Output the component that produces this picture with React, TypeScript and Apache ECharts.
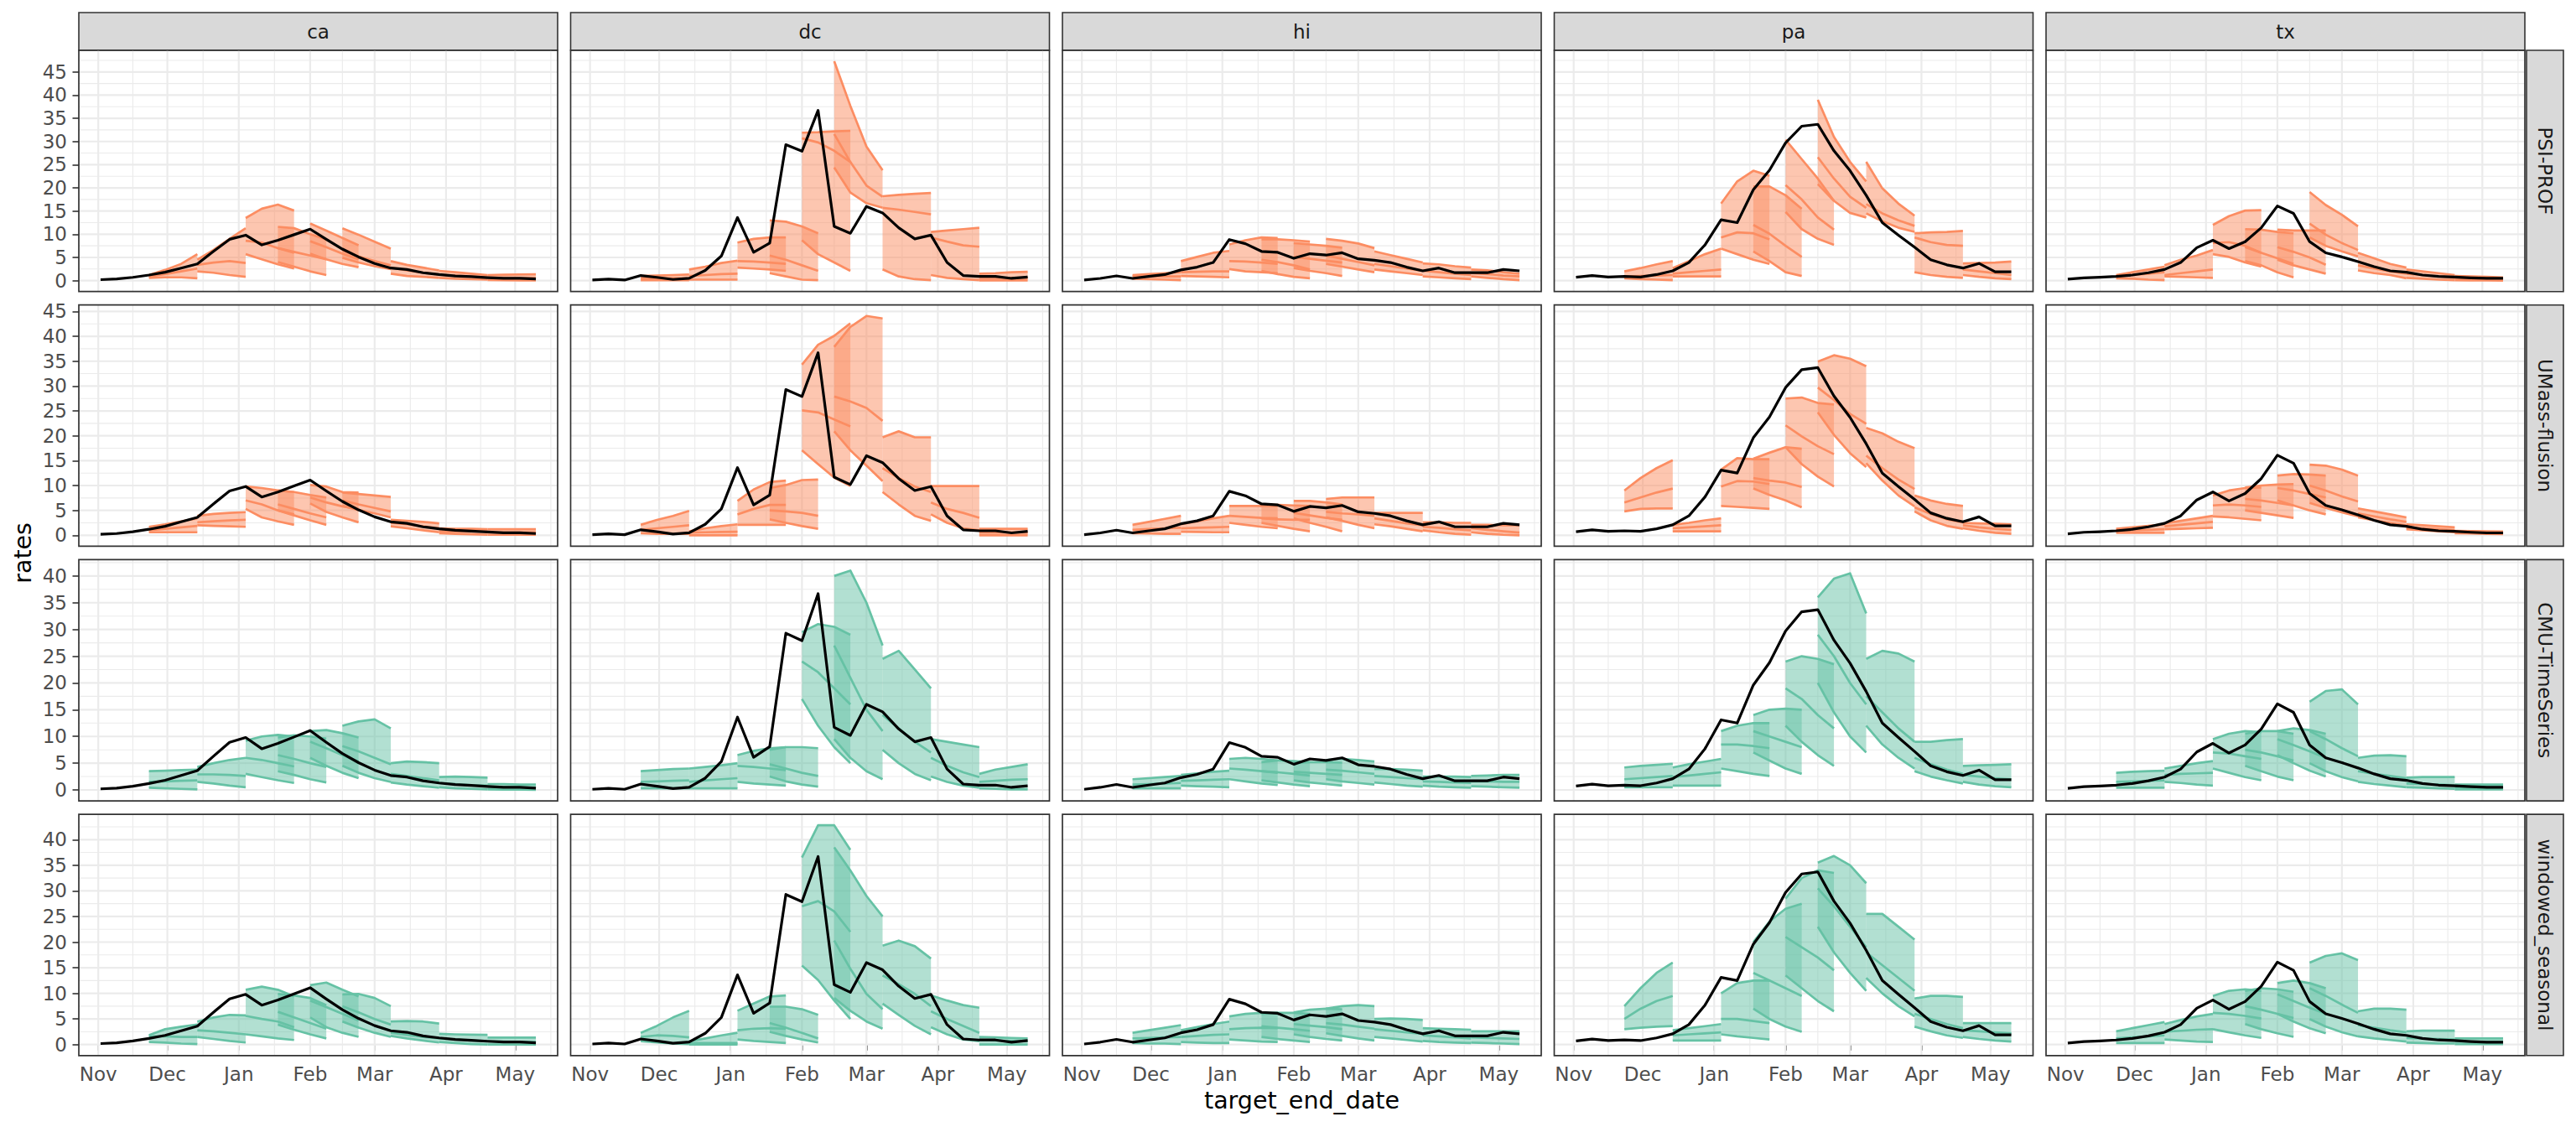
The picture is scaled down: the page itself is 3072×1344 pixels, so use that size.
import React, { useEffect, useRef } from "react";
import * as echarts from "echarts";

// ---------------- data ----------------
const locations = ["ca", "dc", "hi", "pa", "tx"];
const models = ["PSI-PROF", "UMass-flusion", "CMU-TimeSeries", "windowed_seasonal"];

const targetDates = [
  "2024-11-02", "2024-11-09", "2024-11-16", "2024-11-23", "2024-11-30", "2024-12-07", "2024-12-14",
  "2024-12-21", "2024-12-28", "2025-01-04", "2025-01-11", "2025-01-18", "2025-01-25", "2025-02-01",
  "2025-02-08", "2025-02-15", "2025-02-22", "2025-03-01", "2025-03-08", "2025-03-15", "2025-03-22",
  "2025-03-29", "2025-04-05", "2025-04-12", "2025-04-19", "2025-04-26", "2025-05-03", "2025-05-10",
];
const forecastStarts = [
  "2024-11-23", "2024-12-14", "2025-01-04", "2025-01-18", "2025-02-01",
  "2025-02-15", "2025-03-08", "2025-03-29", "2025-04-19",
];
const monthBreaks = [
  "2024-10-01", "2024-11-01", "2024-12-01", "2025-01-01", "2025-02-01",
  "2025-03-01", "2025-04-01", "2025-05-01", "2025-06-01",
];
const monthNames = ["Jan", "Feb", "Mar", "Apr", "May", "Jun", "Jul", "Aug", "Sep", "Oct", "Nov", "Dec"];

const obsCa = [0.2, 0.35, 0.7, 1.2, 1.8, 2.7, 3.6, 6.3, 8.9, 9.8, 7.7, 8.7, 9.9, 11.1, 8.9, 6.8, 5.1, 3.7, 2.7, 2.4, 1.7, 1.3, 1.0, 0.85, 0.65, 0.5, 0.5, 0.35];
const obsDc = [0.12, 0.3, 0.12, 1.1, 0.7, 0.25, 0.5, 2.2, 5.3, 13.6, 6.1, 8.1, 29.3, 27.9, 36.7, 11.7, 10.2, 16.0, 14.6, 11.4, 9.0, 9.8, 3.9, 1.1, 0.9, 0.9, 0.48, 0.78];
const obsHi = [0.12, 0.48, 1.02, 0.48, 0.9, 1.3, 2.3, 2.9, 3.9, 8.85, 7.95, 6.3, 6.1, 4.8, 5.8, 5.5, 6.0, 4.7, 4.4, 3.9, 2.9, 2.1, 2.7, 1.7, 1.7, 1.7, 2.4, 2.1];
const obsPa = [0.72, 1.08, 0.78, 0.9, 0.78, 1.3, 2.1, 3.9, 7.7, 13.1, 12.5, 19.6, 23.8, 29.7, 33.3, 33.7, 28.0, 23.7, 18.4, 12.5, 9.8, 7.2, 4.5, 3.4, 2.7, 3.7, 1.9, 1.9];
const obsTx = [0.3, 0.6, 0.72, 0.9, 1.2, 1.7, 2.4, 3.9, 7.1, 8.7, 6.9, 8.4, 11.4, 16.1, 14.5, 8.4, 6.0, 5.1, 4.1, 3.0, 2.1, 1.8, 1.2, 0.9, 0.78, 0.6, 0.48, 0.48];

// each forecast: 9 chunks (one per forecastStarts), each [lower(4), median(4), upper(4)]
const psiCa = [
  [[0.6, 0.7, 0.7, 0.5], [0.9, 1.4, 2.0, 2.6], [1.2, 2.3, 3.6, 5.7]],
  [[2.0, 1.7, 1.2, 0.8], [3.4, 3.9, 4.2, 3.8], [4.5, 6.6, 9.0, 11.3]],
  [[5.7, 4.6, 3.5, 2.6], [8.6, 8.2, 7.0, 6.0], [13.5, 15.5, 16.4, 15.1]],
  [[4.0, 3.0, 2.0, 1.2], [7.0, 6.2, 5.4, 4.6], [11.6, 11.3, 10.0, 8.9]],
  [[5.8, 4.6, 3.6, 2.9], [8.5, 7.2, 5.8, 4.6], [12.3, 10.8, 9.2, 7.6]],
  [[4.9, 3.9, 3.1, 2.5], [6.5, 5.2, 4.2, 3.3], [11.3, 9.9, 8.4, 6.9]],
  [[1.5, 1.0, 0.8, 0.6], [2.8, 2.2, 1.7, 1.3], [4.2, 3.4, 2.8, 2.2]],
  [[0.6, 0.4, 0.3, 0.2], [1.3, 1.1, 0.9, 0.7], [2.1, 1.8, 1.5, 1.2]],
  [[0.15, 0.1, 0.05, 0.05], [0.7, 0.65, 0.6, 0.55], [1.2, 1.25, 1.3, 1.35]],
];
const psiDc = [
  [[0.1, 0.1, 0.1, 0.1], [0.5, 0.5, 0.5, 0.5], [1.0, 1.1, 1.2, 1.3]],
  [[0.2, 0.2, 0.2, 0.2], [1.0, 1.2, 1.4, 1.5], [2.4, 3.0, 3.8, 4.3]],
  [[2.8, 2.6, 2.4, 2.1], [4.2, 4.1, 3.9, 3.6], [8.2, 9.0, 9.3, 9.3]],
  [[1.6, 0.9, 0.2, 0.1], [5.4, 4.5, 3.3, 2.1], [13.0, 12.7, 11.7, 10.2]],
  [[8.7, 5.7, 3.9, 2.1], [30.7, 29.8, 28.0, 25.6], [31.9, 32.0, 32.2, 32.3]],
  [[24.4, 19.0, 16.7, 15.7], [31.6, 25.6, 20.5, 18.1], [47.3, 37.7, 28.9, 23.8]],
  [[2.4, 0.9, 0.3, 0.1], [15.7, 15.3, 14.8, 14.3], [18.2, 18.5, 18.7, 18.9]],
  [[1.2, 0.6, 0.3, 0.1], [9.3, 8.4, 7.6, 7.3], [10.5, 10.8, 11.1, 11.4]],
  [[0.05, 0.05, 0.05, 0.05], [0.6, 0.6, 0.6, 0.6], [1.5, 1.6, 1.8, 1.9]],
];
const psiHi = [
  [[0.4, 0.3, 0.2, 0.1], [0.9, 0.9, 0.9, 0.9], [1.2, 1.4, 1.6, 1.8]],
  [[1.0, 0.9, 0.8, 0.7], [1.8, 1.9, 2.0, 2.0], [4.2, 5.1, 6.0, 6.4]],
  [[2.5, 2.0, 1.8, 1.6], [4.2, 4.1, 3.9, 3.6], [7.8, 8.7, 9.3, 9.2]],
  [[2.1, 1.4, 0.8, 0.5], [4.5, 4.0, 3.3, 2.4], [8.9, 8.9, 8.7, 8.4]],
  [[2.7, 2.1, 1.6, 1.0], [5.1, 4.7, 4.3, 3.9], [8.1, 7.8, 7.5, 7.1]],
  [[3.6, 3.0, 2.4, 1.8], [5.4, 4.7, 4.0, 3.3], [9.0, 8.6, 8.0, 7.0]],
  [[2.4, 2.0, 1.6, 1.2], [3.6, 3.1, 2.6, 2.1], [6.3, 5.5, 4.7, 3.9]],
  [[0.9, 0.7, 0.5, 0.3], [2.1, 1.8, 1.5, 1.2], [3.7, 3.5, 3.1, 2.8]],
  [[0.9, 0.6, 0.3, 0.1], [1.6, 1.4, 1.1, 0.9], [2.4, 2.2, 1.8, 1.5]],
];
const psiPa = [
  [[0.5, 0.3, 0.2, 0.1], [0.9, 1.0, 1.1, 1.2], [2.0, 2.7, 3.5, 4.2]],
  [[0.9, 0.9, 0.9, 0.9], [1.5, 1.8, 2.1, 2.4], [2.7, 4.2, 5.7, 6.9]],
  [[6.9, 5.7, 4.5, 3.6], [9.3, 10.4, 10.2, 8.9], [16.6, 21.4, 23.7, 22.6]],
  [[6.3, 4.2, 1.8, 1.0], [12.0, 10.1, 7.5, 5.1], [20.3, 20.3, 18.4, 15.5]],
  [[14.8, 11.1, 9.0, 7.7], [20.6, 17.5, 13.6, 11.0], [30.4, 26.2, 22.0, 17.2]],
  [[20.8, 17.2, 14.6, 13.6], [26.6, 22.0, 18.1, 15.7], [39.0, 31.0, 25.6, 21.4]],
  [[14.5, 12.8, 11.4, 10.5], [16.5, 14.5, 13.0, 11.8], [25.6, 19.9, 16.6, 14.0]],
  [[1.8, 1.2, 0.8, 0.6], [9.3, 8.3, 7.7, 7.5], [10.2, 10.4, 10.5, 10.7]],
  [[1.2, 0.8, 0.5, 0.3], [2.4, 2.0, 1.6, 1.2], [3.7, 3.8, 3.9, 4.1]],
];
const psiTx = [
  [[0.5, 0.4, 0.2, 0.1], [0.9, 1.2, 1.5, 1.8], [1.2, 1.8, 2.4, 3.0]],
  [[0.9, 0.8, 0.7, 0.6], [1.2, 1.6, 2.0, 2.4], [3.3, 4.5, 5.4, 6.6]],
  [[5.7, 5.1, 3.9, 3.0], [8.1, 8.3, 7.5, 6.0], [12.0, 13.9, 15.1, 15.2]],
  [[4.2, 3.3, 1.8, 0.7], [7.2, 6.0, 4.8, 3.6], [11.1, 11.0, 10.5, 10.2]],
  [[4.5, 3.3, 2.4, 1.5], [7.2, 6.2, 5.0, 3.4], [11.0, 10.8, 10.8, 10.8]],
  [[9.3, 7.5, 6.3, 5.2], [12.3, 9.9, 8.1, 6.6], [19.1, 16.3, 14.2, 11.7]],
  [[2.2, 1.6, 1.2, 0.5], [3.3, 2.6, 2.0, 1.5], [6.0, 4.8, 3.6, 2.8]],
  [[0.6, 0.4, 0.2, 0.1], [1.5, 1.2, 0.9, 0.6], [2.4, 2.0, 1.6, 1.2]],
  [[0.1, 0.05, 0.05, 0.0], [0.6, 0.5, 0.45, 0.4], [1.0, 0.9, 0.8, 0.7]],
];

const umassCa = [
  [[0.6, 0.6, 0.6, 0.6], [1.0, 1.3, 1.6, 1.9], [1.7, 2.2, 2.8, 3.4]],
  [[2.0, 1.9, 1.8, 1.7], [2.6, 2.8, 3.0, 3.1], [3.9, 4.3, 4.5, 4.65]],
  [[5.3, 3.6, 2.8, 2.1], [7.0, 6.2, 5.0, 4.2], [9.8, 9.5, 9.0, 8.7]],
  [[5.0, 4.0, 3.0, 2.1], [6.2, 5.3, 4.4, 3.6], [9.0, 8.7, 8.1, 7.6]],
  [[6.4, 4.7, 3.6, 2.6], [7.6, 6.6, 5.8, 5.3], [10.1, 9.8, 8.7, 8.6]],
  [[5.9, 5.1, 4.4, 3.6], [7.0, 6.2, 5.5, 4.8], [8.6, 8.3, 8.0, 7.7]],
  [[1.8, 1.4, 1.0, 0.6], [2.5, 2.2, 1.8, 1.4], [3.1, 2.9, 2.7, 2.4]],
  [[0.4, 0.3, 0.2, 0.1], [0.8, 0.8, 0.8, 0.8], [1.4, 1.3, 1.3, 1.2]],
  [[0.1, 0.1, 0.1, 0.1], [0.6, 0.6, 0.6, 0.6], [1.2, 1.2, 1.2, 1.2]],
];
const umassDc = [
  [[0.4, 0.3, 0.3, 0.3], [1.1, 1.4, 1.7, 2.0], [2.1, 3.1, 3.9, 4.9]],
  [[0.0, 0.0, 0.0, 0.0], [0.55, 0.6, 0.65, 0.7], [0.8, 1.4, 1.85, 2.2]],
  [[2.1, 2.1, 2.1, 2.1], [4.2, 5.3, 6.1, 6.1], [6.9, 9.2, 10.7, 11.0]],
  [[3.2, 2.5, 1.85, 1.3], [5.0, 4.8, 4.5, 3.9], [9.5, 10.1, 11.1, 11.2]],
  [[17.1, 14.3, 11.6, 9.9], [25.1, 24.7, 23.3, 21.9], [34.3, 38.3, 40.1, 42.6]],
  [[20.9, 17.1, 14.0, 10.9], [27.9, 26.9, 25.6, 23.0], [37.9, 41.9, 44.1, 43.6]],
  [[8.7, 6.2, 3.9, 2.9], [13.5, 11.5, 9.8, 8.7], [19.7, 20.9, 19.7, 19.7]],
  [[4.2, 2.5, 1.4, 1.0], [6.6, 5.3, 4.5, 3.5], [9.9, 9.9, 9.9, 9.9]],
  [[0.0, 0.0, 0.0, 0.0], [0.55, 0.55, 0.55, 0.55], [1.3, 1.3, 1.3, 1.3]],
];
const umassHi = [
  [[0.4, 0.35, 0.3, 0.3], [1.1, 1.25, 1.4, 1.5], [2.1, 2.7, 3.3, 3.9]],
  [[0.7, 0.65, 0.6, 0.6], [1.4, 1.5, 1.6, 1.7], [2.2, 2.8, 3.4, 3.9]],
  [[2.5, 2.1, 1.7, 1.4], [3.9, 3.7, 3.5, 3.4], [5.9, 5.9, 5.9, 5.9]],
  [[2.5, 1.9, 1.3, 0.8], [3.4, 3.2, 3.1, 3.1], [6.2, 6.1, 6.0, 5.9]],
  [[3.4, 2.5, 1.7, 0.8], [4.5, 4.0, 3.5, 3.1], [6.9, 6.9, 6.6, 6.2]],
  [[3.6, 2.9, 2.1, 1.4], [4.7, 4.4, 4.2, 3.9], [7.3, 7.6, 7.6, 7.6]],
  [[2.2, 1.8, 1.3, 0.8], [3.4, 2.9, 2.4, 2.0], [4.5, 4.5, 4.5, 4.5]],
  [[1.0, 0.6, 0.3, 0.1], [1.7, 1.5, 1.2, 1.0], [2.6, 2.6, 2.5, 2.5]],
  [[0.6, 0.3, 0.1, 0.0], [1.4, 1.1, 0.8, 0.55], [2.1, 2.1, 2.0, 2.0]],
];
const umassPa = [
  [[4.8, 5.3, 5.4, 5.4], [6.6, 7.6, 8.6, 9.4], [9.0, 11.5, 13.5, 15.1]],
  [[0.8, 0.8, 0.8, 0.8], [1.4, 1.6, 1.8, 2.0], [2.1, 2.5, 3.0, 3.4]],
  [[5.9, 5.7, 5.5, 5.3], [9.8, 10.9, 10.8, 10.3], [13.2, 15.5, 15.3, 15.3]],
  [[9.4, 8.1, 7.0, 5.6], [11.5, 11.0, 10.6, 9.7], [15.4, 16.6, 17.7, 17.4]],
  [[17.7, 14.3, 11.8, 9.8], [22.1, 19.9, 17.9, 16.3], [27.5, 27.7, 26.6, 26.3]],
  [[24.7, 20.2, 16.5, 13.7], [29.7, 27.2, 24.4, 22.4], [34.9, 36.2, 35.5, 34.0]],
  [[14.5, 11.0, 8.0, 5.8], [16.0, 13.5, 11.2, 9.3], [21.6, 20.5, 18.8, 17.5]],
  [[4.8, 3.0, 1.9, 1.3], [5.6, 4.3, 3.2, 2.6], [8.0, 7.0, 6.3, 5.9]],
  [[1.4, 0.9, 0.5, 0.3], [2.0, 1.6, 1.3, 1.1], [2.5, 2.4, 2.3, 2.2]],
];
const umassTx = [
  [[0.5, 0.5, 0.5, 0.5], [0.9, 1.0, 1.1, 1.2], [1.3, 1.6, 1.9, 2.2]],
  [[1.2, 1.3, 1.4, 1.5], [1.8, 2.1, 2.4, 2.7], [2.4, 2.9, 3.4, 3.9]],
  [[3.8, 3.6, 3.3, 3.0], [6.0, 6.2, 6.0, 5.7], [8.0, 9.0, 9.5, 9.6]],
  [[5.0, 4.5, 4.0, 3.5], [7.3, 7.0, 6.5, 6.0], [9.6, 10.0, 10.2, 10.3]],
  [[7.0, 6.0, 5.0, 4.2], [9.5, 9.0, 8.3, 7.6], [12.0, 12.3, 12.2, 12.0]],
  [[6.5, 5.5, 4.6, 3.8], [10.0, 9.0, 7.8, 6.8], [14.2, 14.0, 13.2, 12.0]],
  [[3.6, 3.0, 2.5, 2.0], [4.4, 3.8, 3.2, 2.7], [5.4, 4.8, 4.2, 3.6]],
  [[1.2, 1.0, 0.8, 0.6], [1.6, 1.4, 1.2, 1.0], [2.2, 2.0, 1.8, 1.6]],
  [[0.4, 0.35, 0.3, 0.25], [0.6, 0.55, 0.5, 0.45], [0.9, 0.85, 0.8, 0.75]],
];

const cmuCa = [
  [[0.4, 0.3, 0.2, 0.1], [1.5, 1.6, 1.7, 1.8], [3.5, 3.6, 3.7, 3.8]],
  [[1.5, 1.2, 0.8, 0.5], [2.9, 2.9, 2.8, 2.6], [4.3, 5.0, 5.6, 6.0]],
  [[3.0, 2.4, 1.8, 1.3], [6.0, 5.6, 5.0, 4.4], [9.2, 10.0, 10.3, 10.0]],
  [[3.5, 2.8, 2.0, 1.4], [6.5, 5.8, 5.0, 4.3], [9.8, 10.2, 10.0, 9.6]],
  [[6.0, 4.5, 3.2, 2.2], [9.0, 7.8, 6.5, 5.3], [11.0, 11.2, 10.6, 9.8]],
  [[4.5, 3.2, 2.2, 1.5], [8.2, 7.2, 6.0, 4.8], [12.0, 12.8, 13.2, 11.5]],
  [[1.4, 1.0, 0.7, 0.4], [3.0, 2.6, 2.2, 1.8], [5.0, 5.3, 5.2, 5.0]],
  [[0.5, 0.3, 0.2, 0.1], [1.3, 1.1, 0.9, 0.8], [2.4, 2.5, 2.4, 2.3]],
  [[0.1, 0.05, 0.05, 0.0], [0.6, 0.55, 0.5, 0.45], [1.1, 1.1, 1.0, 1.0]],
];
const cmuDc = [
  [[0.3, 0.3, 0.3, 0.3], [1.5, 1.6, 1.7, 1.8], [3.5, 3.7, 3.9, 4.0]],
  [[0.3, 0.3, 0.3, 0.3], [1.5, 1.8, 2.0, 2.2], [4.0, 4.3, 4.6, 5.0]],
  [[1.5, 1.2, 1.0, 0.8], [4.5, 4.3, 4.0, 3.7], [6.5, 7.3, 7.8, 8.0]],
  [[2.5, 1.6, 1.0, 0.6], [4.8, 4.0, 3.2, 2.6], [7.5, 8.0, 8.0, 7.8]],
  [[17.0, 12.0, 8.0, 5.0], [24.0, 22.0, 19.0, 16.0], [29.5, 31.0, 30.5, 29.0]],
  [[9.5, 6.0, 3.5, 2.0], [27.0, 21.0, 15.0, 11.0], [40.0, 41.0, 35.0, 27.0]],
  [[7.5, 5.0, 3.0, 1.8], [14.0, 11.5, 9.0, 7.0], [24.5, 26.0, 22.5, 19.0]],
  [[2.5, 1.5, 0.8, 0.4], [6.0, 4.5, 3.3, 2.4], [9.5, 9.0, 8.5, 8.0]],
  [[0.3, 0.2, 0.1, 0.1], [1.5, 1.7, 1.9, 2.0], [3.0, 3.8, 4.3, 4.8]],
];
const cmuHi = [
  [[0.3, 0.3, 0.3, 0.3], [1.0, 1.1, 1.2, 1.3], [2.0, 2.2, 2.4, 2.6]],
  [[0.8, 0.7, 0.6, 0.5], [1.7, 1.8, 1.9, 2.0], [2.8, 3.1, 3.4, 3.6]],
  [[2.0, 1.6, 1.2, 0.9], [4.0, 3.8, 3.5, 3.2], [5.8, 6.0, 5.8, 5.5]],
  [[1.8, 1.4, 1.0, 0.7], [3.5, 3.3, 3.0, 2.7], [5.2, 5.5, 5.4, 5.2]],
  [[1.8, 1.4, 1.1, 0.8], [3.4, 3.2, 3.0, 2.8], [5.0, 5.2, 5.2, 5.1]],
  [[2.0, 1.6, 1.3, 1.0], [3.8, 3.6, 3.3, 3.0], [5.6, 5.8, 5.6, 5.3]],
  [[1.4, 1.1, 0.8, 0.6], [2.6, 2.4, 2.2, 2.0], [3.9, 3.9, 3.8, 3.6]],
  [[0.8, 0.6, 0.5, 0.4], [1.6, 1.5, 1.4, 1.3], [2.5, 2.5, 2.5, 2.4]],
  [[0.7, 0.6, 0.5, 0.4], [1.6, 1.6, 1.5, 1.5], [2.6, 2.7, 2.8, 2.8]],
];
const cmuPa = [
  [[0.5, 0.5, 0.5, 0.5], [2.0, 2.2, 2.4, 2.6], [4.2, 4.5, 4.7, 4.9]],
  [[0.8, 0.8, 0.8, 0.8], [2.4, 2.7, 3.0, 3.3], [4.2, 4.8, 5.3, 5.8]],
  [[4.0, 3.5, 3.0, 2.6], [8.5, 8.5, 8.2, 7.8], [11.0, 12.0, 12.5, 12.5]],
  [[7.0, 5.5, 4.0, 3.0], [11.0, 10.0, 9.0, 8.0], [14.0, 15.0, 15.2, 15.0]],
  [[12.0, 9.0, 6.5, 4.5], [19.0, 17.0, 14.0, 11.5], [24.0, 25.0, 24.5, 23.5]],
  [[20.0, 14.5, 10.0, 7.0], [29.0, 25.0, 20.0, 16.0], [36.0, 39.5, 40.5, 33.0]],
  [[12.0, 8.5, 6.0, 4.0], [17.5, 14.5, 11.5, 9.0], [24.5, 26.0, 25.5, 24.0]],
  [[3.5, 2.5, 1.8, 1.2], [6.0, 4.8, 3.8, 3.0], [9.0, 9.0, 9.3, 9.5]],
  [[1.5, 1.0, 0.7, 0.5], [2.8, 2.5, 2.2, 2.0], [4.5, 4.6, 4.7, 4.8]],
];
const cmuTx = [
  [[0.4, 0.4, 0.4, 0.4], [1.5, 1.6, 1.7, 1.8], [3.2, 3.4, 3.5, 3.6]],
  [[1.5, 1.3, 1.0, 0.8], [2.8, 3.0, 3.1, 3.2], [4.0, 4.5, 5.0, 5.4]],
  [[4.0, 3.2, 2.4, 1.8], [7.0, 6.8, 6.3, 5.8], [9.5, 10.5, 11.0, 10.8]],
  [[4.5, 3.5, 2.5, 1.8], [7.5, 7.0, 6.3, 5.5], [10.5, 11.0, 11.0, 10.5]],
  [[6.5, 5.0, 3.6, 2.5], [9.5, 8.4, 7.2, 6.0], [11.0, 11.5, 11.2, 10.5]],
  [[5.0, 3.5, 2.4, 1.6], [11.0, 9.5, 7.8, 6.3], [16.5, 18.5, 18.8, 16.0]],
  [[1.5, 1.1, 0.8, 0.5], [3.5, 3.0, 2.6, 2.2], [6.0, 6.4, 6.5, 6.3]],
  [[0.5, 0.4, 0.3, 0.2], [1.2, 1.1, 1.0, 0.9], [2.3, 2.4, 2.4, 2.4]],
  [[0.1, 0.1, 0.1, 0.1], [0.5, 0.5, 0.5, 0.5], [1.0, 1.0, 1.0, 1.0]],
];

const winCa = [
  [[0.5, 0.4, 0.2, 0.1], [1.6, 1.6, 1.5, 1.5], [1.85, 3.0, 3.5, 3.9]],
  [[1.5, 1.1, 0.7, 0.4], [2.8, 2.6, 2.3, 2.0], [4.5, 5.3, 5.8, 5.7]],
  [[2.0, 1.6, 1.2, 0.9], [5.6, 5.0, 4.5, 3.4], [10.7, 11.3, 10.7, 9.4]],
  [[3.9, 2.9, 2.0, 1.2], [6.4, 5.3, 4.2, 3.1], [9.9, 9.6, 9.1, 7.7]],
  [[5.3, 3.4, 2.3, 1.5], [8.6, 7.3, 6.0, 4.7], [11.6, 12.1, 10.7, 9.4]],
  [[4.5, 3.3, 2.3, 1.5], [7.5, 6.3, 5.0, 3.9], [9.8, 9.9, 9.1, 7.5]],
  [[1.7, 1.2, 0.8, 0.4], [2.3, 1.9, 1.5, 1.2], [4.5, 4.6, 4.5, 4.1]],
  [[0.5, 0.3, 0.1, 0.0], [1.2, 1.0, 0.8, 0.65], [2.1, 2.0, 1.95, 1.9]],
  [[0.0, 0.0, 0.0, 0.0], [0.65, 0.6, 0.55, 0.5], [1.35, 1.35, 1.35, 1.35]],
];
const winDc = [
  [[0.65, 0.4, 0.2, 0.1], [1.5, 1.8, 1.7, 1.4], [2.3, 3.65, 5.3, 6.6]],
  [[0.0, 0.0, 0.0, 0.0], [0.3, 0.3, 0.3, 0.3], [0.65, 1.2, 1.8, 2.3]],
  [[1.0, 0.7, 0.5, 0.3], [2.8, 3.1, 3.2, 3.1], [6.6, 8.0, 9.4, 9.6]],
  [[2.5, 1.7, 1.0, 0.4], [4.2, 3.3, 2.3, 1.2], [7.4, 7.4, 6.9, 5.8]],
  [[15.4, 12.6, 8.6, 5.0], [27.0, 28.0, 26.0, 22.0], [36.5, 42.8, 42.8, 38.0]],
  [[9.1, 6.6, 4.5, 3.1], [20.3, 14.8, 9.9, 6.9], [38.5, 34.0, 29.0, 25.0]],
  [[8.0, 5.8, 3.65, 2.0], [13.5, 11.8, 9.9, 7.5], [19.3, 20.3, 19.2, 16.8]],
  [[3.4, 2.0, 1.0, 0.65], [6.5, 5.0, 3.65, 2.3], [9.6, 8.6, 7.7, 7.2]],
  [[0.0, 0.0, 0.0, 0.0], [0.9, 0.8, 0.7, 0.65], [1.5, 1.4, 1.3, 1.2]],
];
const winHi = [
  [[0.3, 0.2, 0.2, 0.1], [1.2, 1.3, 1.4, 1.5], [2.3, 2.8, 3.3, 3.8]],
  [[0.5, 0.4, 0.3, 0.3], [1.5, 1.7, 1.9, 2.0], [2.8, 3.4, 4.0, 4.5]],
  [[1.0, 0.8, 0.6, 0.5], [3.0, 3.2, 3.3, 3.2], [5.5, 6.0, 6.2, 6.2]],
  [[1.5, 1.1, 0.8, 0.5], [3.6, 3.3, 3.0, 2.7], [6.0, 6.2, 6.2, 6.0]],
  [[2.0, 1.5, 1.1, 0.8], [4.0, 3.7, 3.4, 3.0], [6.3, 6.8, 7.0, 6.9]],
  [[2.2, 1.7, 1.2, 0.8], [4.2, 3.9, 3.5, 3.1], [7.0, 7.5, 7.7, 7.5]],
  [[1.5, 1.2, 0.9, 0.6], [3.0, 2.7, 2.4, 2.1], [5.0, 5.1, 5.0, 4.8]],
  [[0.7, 0.5, 0.4, 0.3], [1.8, 1.6, 1.4, 1.2], [3.2, 3.1, 3.0, 2.9]],
  [[0.4, 0.3, 0.2, 0.1], [1.4, 1.3, 1.2, 1.1], [2.6, 2.6, 2.6, 2.6]],
];
const winPa = [
  [[3.0, 3.3, 3.5, 3.6], [5.0, 7.0, 8.5, 9.5], [7.5, 11.0, 14.0, 16.0]],
  [[0.8, 0.8, 0.8, 0.8], [1.8, 2.0, 2.2, 2.4], [2.8, 3.2, 3.6, 4.0]],
  [[2.0, 1.6, 1.3, 1.0], [5.0, 5.0, 4.6, 4.2], [10.0, 12.0, 12.5, 12.5]],
  [[7.0, 5.0, 3.5, 2.5], [14.0, 12.5, 11.0, 9.5], [20.0, 24.0, 26.5, 27.5]],
  [[13.5, 11.0, 8.5, 6.5], [21.0, 19.0, 17.0, 14.5], [28.5, 32.5, 34.0, 33.5]],
  [[23.0, 18.0, 14.0, 10.5], [30.5, 27.0, 23.0, 19.0], [35.5, 36.8, 35.0, 31.5]],
  [[13.0, 10.0, 7.5, 5.5], [18.0, 15.5, 13.0, 10.5], [25.5, 25.5, 23.0, 20.5]],
  [[3.5, 2.6, 1.8, 1.3], [6.0, 5.0, 4.0, 3.2], [9.0, 9.5, 9.5, 9.3]],
  [[1.5, 1.1, 0.8, 0.6], [2.8, 2.6, 2.4, 2.2], [4.2, 4.2, 4.2, 4.2]],
];
const winTx = [
  [[0.3, 0.3, 0.3, 0.3], [1.2, 1.4, 1.6, 1.8], [2.6, 3.2, 3.8, 4.4]],
  [[1.0, 0.8, 0.6, 0.5], [2.5, 2.7, 2.9, 3.0], [4.0, 4.8, 5.5, 6.0]],
  [[3.0, 2.4, 1.8, 1.3], [6.2, 6.0, 5.6, 5.1], [9.5, 10.5, 10.8, 10.5]],
  [[4.0, 3.0, 2.2, 1.5], [7.5, 6.8, 6.0, 5.2], [10.5, 11.0, 10.8, 10.3]],
  [[6.0, 4.5, 3.2, 2.2], [9.8, 8.5, 7.2, 6.0], [12.0, 12.5, 12.0, 11.0]],
  [[5.0, 3.5, 2.4, 1.6], [11.0, 9.5, 7.8, 6.2], [16.0, 17.3, 17.8, 16.5]],
  [[1.6, 1.2, 0.9, 0.6], [3.8, 3.3, 2.8, 2.4], [6.5, 7.0, 7.0, 6.8]],
  [[0.4, 0.3, 0.2, 0.2], [1.3, 1.2, 1.1, 1.0], [2.6, 2.7, 2.7, 2.7]],
  [[0.1, 0.1, 0.1, 0.1], [0.6, 0.6, 0.6, 0.6], [1.2, 1.2, 1.2, 1.2]],
];

const observedByLoc = [obsCa, obsDc, obsHi, obsPa, obsTx];
const forecastTable = [
  [psiCa, psiDc, psiHi, psiPa, psiTx],
  [umassCa, umassDc, umassHi, umassPa, umassTx],
  [cmuCa, cmuDc, cmuHi, cmuPa, cmuTx],
  [winCa, winDc, winHi, winPa, winTx],
];
const modelColors = ["#FC8D62", "#FC8D62", "#66C2A5", "#66C2A5"];
const modelFills = ["rgba(252,141,98,0.5)", "rgba(252,141,98,0.5)", "rgba(102,194,165,0.5)", "rgba(102,194,165,0.5)"];

// ---------------- layout ----------------
const FONT = '"DejaVu Sans", "Noto Sans", sans-serif';
const PANEL_W = 571;
const PANEL_H = 287.7;
const colLeft = (c: number) => 94 + 586.5 * c;
const rowTop = (r: number) => 60 + 303.7 * r;

const ts = (s: string) => {
  const [y, m, d] = s.split("-").map(Number);
  return Date.UTC(y, m - 1, d);
};

function buildOption() {
  const dateTs = targetDates.map(ts);
  const startIdx = forecastStarts.map((s) => targetDates.indexOf(s));
  const span = dateTs[dateTs.length - 1] - dateTs[0];
  const xMin = dateTs[0] - 0.05 * span;
  const xMax = dateTs[dateTs.length - 1] + 0.05 * span;
  const breakTs = monthBreaks.map(ts);
  const majorX = breakTs.filter((t) => t >= xMin && t <= xMax);
  const minorX: number[] = [];
  for (let i = 0; i + 1 < breakTs.length; i++) {
    const m = (breakTs[i] + breakTs[i + 1]) / 2;
    if (m > xMin && m < xMax) minorX.push(m);
  }
  const monthLabel = (v: number) => {
    let best = 0;
    for (let i = 0; i < majorX.length; i++) if (Math.abs(majorX[i] - v) < Math.abs(majorX[best] - v)) best = i;
    if (Math.abs(majorX[best] - v) > 86400000) return "";
    return monthNames[new Date(majorX[best]).getUTCMonth()];
  };

  const grids: any[] = [];
  const xAxes: any[] = [];
  const yAxes: any[] = [];
  const series: any[] = [];
  const graphic: any[] = [];

  for (let r = 0; r < 4; r++) {
    let mn = Infinity, mx = -Infinity;
    for (let c = 0; c < 5; c++) {
      for (const v of observedByLoc[c]) { mn = Math.min(mn, v); mx = Math.max(mx, v); }
      for (const ch of forecastTable[r][c]) for (const arr of ch) for (const v of arr) { mn = Math.min(mn, v); mx = Math.max(mx, v); }
    }
    const pad = 0.05 * (mx - mn);
    const yMin = mn - pad;
    const yMax = mx + pad;
    const majorY: number[] = [];
    const minorY: number[] = [];
    for (let v = -5; v <= yMax; v += 2.5) {
      if (v < yMin) continue;
      if (Math.round(v / 2.5) % 2 === 0) majorY.push(v); else minorY.push(v);
    }

    for (let c = 0; c < 5; c++) {
      const idx = r * 5 + c;
      grids.push({
        left: colLeft(c), top: rowTop(r), width: PANEL_W, height: PANEL_H,
        containLabel: false, show: false, outerBoundsMode: "none",
      });
      xAxes.push({
        type: "value", gridIndex: idx, min: xMin, max: xMax, scale: true,
        axisLine: { show: false }, splitLine: { show: false }, minorSplitLine: { show: false },
        axisTick: { show: r === 3, customValues: majorX, length: 7, lineStyle: { color: "#333333", width: 1.6 } },
        axisLabel: {
          show: r === 3, customValues: majorX, margin: 11, color: "#4D4D4D", fontSize: 23, fontFamily: FONT,
          hideOverlap: false, formatter: (v: number) => monthLabel(v),
        },
      });
      yAxes.push({
        type: "value", gridIndex: idx, min: yMin, max: yMax, minInterval: 5, maxInterval: 5,
        axisLine: { show: false }, splitLine: { show: false },
        axisTick: { show: c === 0, customValues: majorY, length: 7.5, lineStyle: { color: "#333333", width: 1.6 } },
        axisLabel: {
          show: c === 0, customValues: majorY, margin: 14, color: "#4D4D4D", fontSize: 23, fontFamily: FONT,
          hideOverlap: false,
          formatter: (v: number) => (Math.abs(v / 5 - Math.round(v / 5)) < 1e-6 ? String(Math.round(v)) : ""),
        },
      });

      // grid lines + panel border
      series.push({
        type: "custom", xAxisIndex: idx, yAxisIndex: idx, silent: true, z: 1,
        data: [[xMin, yMin]], encode: { x: 0, y: 1 },
        renderItem: (params: any, api: any) => {
          const cs = params.coordSys;
          const children: any[] = [];
          const vline = (t: number, w: number) => {
            const px = api.coord([t, yMin])[0];
            children.push({ type: "line", shape: { x1: px, y1: cs.y, x2: px, y2: cs.y + cs.height }, style: { stroke: "#EBEBEB", lineWidth: w } });
          };
          const hline = (v: number, w: number) => {
            const py = api.coord([xMin, v])[1];
            children.push({ type: "line", shape: { x1: cs.x, y1: py, x2: cs.x + cs.width, y2: py }, style: { stroke: "#EBEBEB", lineWidth: w } });
          };
          minorX.forEach((t) => vline(t, 1.1));
          minorY.forEach((v) => hline(v, 1.1));
          majorX.forEach((t) => vline(t, 2.2));
          majorY.forEach((v) => hline(v, 2.2));
          children.push({ type: "rect", shape: { x: cs.x, y: cs.y, width: cs.width, height: cs.height }, style: { fill: "none", stroke: "#333333", lineWidth: 1.7 } });
          return { type: "group", children };
        },
      });

      // forecast ribbons
      const chunks = forecastTable[r][c];
      const color = modelColors[r];
      const fill = modelFills[r];
      series.push({
        type: "custom", xAxisIndex: idx, yAxisIndex: idx, silent: true, z: 2,
        data: chunks.map((ch: number[][], k: number) => [dateTs[startIdx[k]], ch[1][0]]),
        encode: { x: 0, y: 1 },
        renderItem: (params: any, api: any) => {
          const k = params.dataIndex;
          const ch = chunks[k];
          const s = startIdx[k];
          const pts = (vals: number[]) => vals.map((v, j) => api.coord([dateTs[s + j], v]));
          const lo = pts(ch[0]);
          const md = pts(ch[1]);
          const hi = pts(ch[2]);
          const ls = { stroke: color, lineWidth: 2.7, fill: "none", lineJoin: "round" };
          return {
            type: "group",
            children: [
              { type: "polygon", shape: { points: hi.concat(lo.slice().reverse()) }, style: { fill, stroke: "none" } },
              { type: "polyline", shape: { points: hi }, style: ls },
              { type: "polyline", shape: { points: lo }, style: ls },
              { type: "polyline", shape: { points: md }, style: ls },
            ],
          };
        },
      });

      // observed
      series.push({
        type: "line", xAxisIndex: idx, yAxisIndex: idx, silent: true, z: 3,
        data: dateTs.map((t, i) => [t, observedByLoc[c][i]]),
        showSymbol: false, symbol: "none",
        lineStyle: { color: "#000000", width: 3.2, join: "round" },
      });
    }

    graphic.push({
      type: "rect", shape: { x: 3013, y: rowTop(r), width: 44, height: PANEL_H },
      style: { fill: "#D9D9D9", stroke: "#333333", lineWidth: 1.6 }, silent: true,
    });
    graphic.push({
      type: "text", x: 3035, y: rowTop(r) + PANEL_H / 2, rotation: -Math.PI / 2, silent: true,
      style: { text: models[r], fill: "#1A1A1A", fontSize: 23, fontFamily: FONT, align: "center", verticalAlign: "middle", textAlign: "center", textVerticalAlign: "middle" },
    });
  }

  locations.forEach((loc, c) => {
    graphic.push({
      type: "rect", shape: { x: colLeft(c), y: 15, width: PANEL_W, height: 45 },
      style: { fill: "#D9D9D9", stroke: "#333333", lineWidth: 1.6 }, silent: true,
    });
    graphic.push({
      type: "text", x: colLeft(c) + PANEL_W / 2, y: 37.5, silent: true,
      style: { text: loc, fill: "#1A1A1A", fontSize: 23, fontFamily: FONT, align: "center", verticalAlign: "middle", textAlign: "center", textVerticalAlign: "middle" },
    });
  });

  graphic.push({
    type: "text", x: (colLeft(0) + colLeft(4) + PANEL_W) / 2, y: 1312, silent: true,
    style: { text: "target_end_date", fill: "#000000", fontSize: 28.5, fontFamily: FONT, align: "center", verticalAlign: "middle", textAlign: "center", textVerticalAlign: "middle" },
  });
  graphic.push({
    type: "text", x: 27, y: (rowTop(0) + rowTop(3) + PANEL_H) / 2, rotation: Math.PI / 2, silent: true,
    style: { text: "rates", fill: "#000000", fontSize: 28.5, fontFamily: FONT, align: "center", verticalAlign: "middle", textAlign: "center", textVerticalAlign: "middle" },
  });

  return {
    animation: false,
    backgroundColor: "#FFFFFF",
    textStyle: { fontFamily: FONT },
    grid: grids,
    xAxis: xAxes,
    yAxis: yAxes,
    series,
    graphic,
  };
}

export default function App() {
  const ref = useRef<HTMLDivElement>(null);
  useEffect(() => {
    if (!ref.current) return;
    const chart = echarts.init(ref.current, null, { renderer: "svg" });
    chart.setOption(buildOption() as any);
    return () => chart.dispose();
  }, []);
  return (
    <div
      ref={ref}
      style={{ position: "fixed", left: 0, top: 0, width: "3072px", height: "1344px", background: "#FFFFFF" }}
    />
  );
}
